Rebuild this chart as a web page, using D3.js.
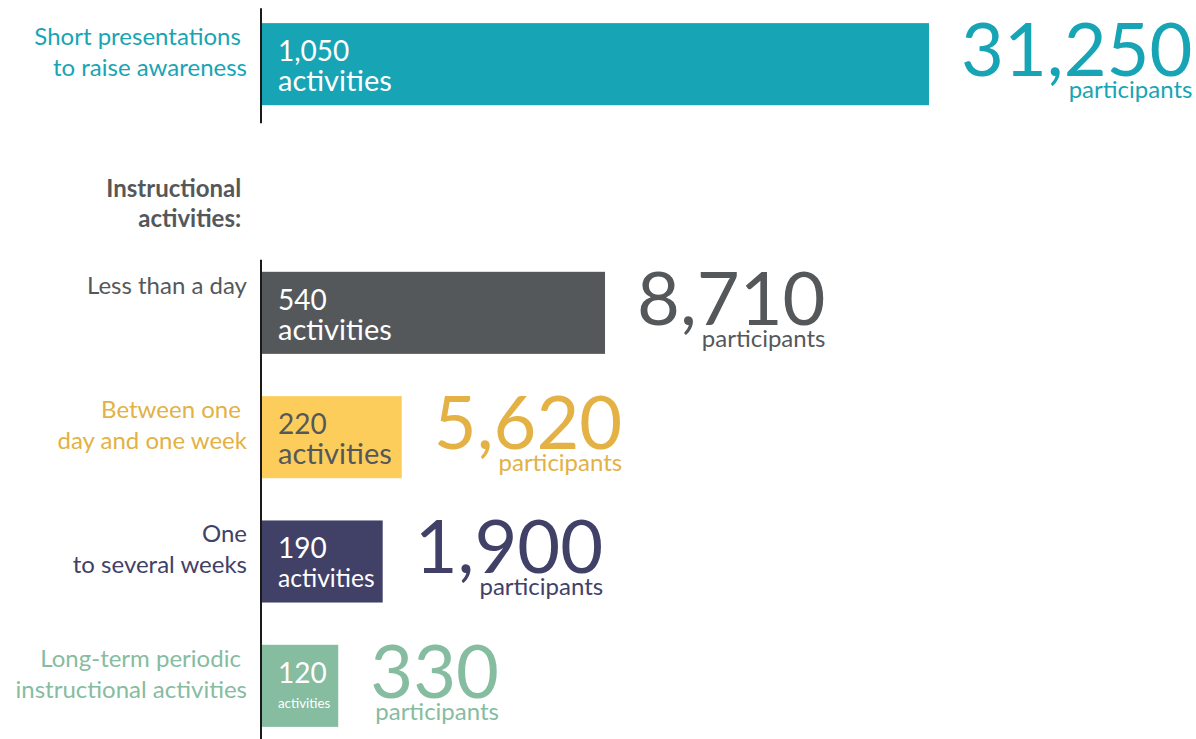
<!DOCTYPE html>
<html lang="en">
<head>
    <meta charset="UTF-8">
    <title>Activities and participants</title>
    <script src="https://d3js.org/d3.v7.min.js"></script>
    <style>
        body { margin: 0; background: #fff; }
        svg text { font-family: Lato, "Open Sans", sans-serif; white-space: pre; }
        .axis-line { stroke: #1a1a1a; stroke-width: 2px; }
    </style>
</head>
<body>
<script>

    // Data
    var rowKeys = ["short", "heading", "less", "between", "one", "long"];
    var categories = ["short", "less", "between", "one", "long"];
    var labelLines = [
        ["Short presentations ", "to raise awareness"],
        ["Less than a day"],
        ["Between one ", "day and one week"],
        ["One", "to several weeks"],
        ["Long-term periodic ", "instructional activities"]
    ];
    var headingLines = ["Instructional ", "activities: "];
    var activities = [1050, 540, 220, 190, 120];
    var participants = [31250, 8710, 5620, 1900, 330];

    // Colours
    var barColors  = ["#17a5b5", "#55585b", "#fdcd5c", "#414168", "#86bc9f"];
    var textColors = ["#17a5b5", "#55585b", "#e3b144", "#414168", "#86bc9f"];
    var innerColors = ["#ffffff", "#ffffff", "#55585b", "#ffffff", "#ffffff"];

    var width = 1196, height = 739;
    var axisX = 262, labelRight = 247;

    var fmt = d3.format(",");

    var x = d3.scaleLinear().domain([0, 1050]).range([axisX, 929]);
    var y = d3.scaleBand().domain(rowKeys).range([2, 748]).paddingInner(0.34).paddingOuter(0.17);
    var bw = y.bandwidth();

    var svg = d3.select("body").append("svg")
        .attr("width", width)
        .attr("height", height);

    var data = categories.map(function(c, i) {
        return {key: c, lines: labelLines[i], act: activities[i], part: participants[i], i: i};
    });

    // bars
    svg.selectAll("rect.bar")
        .data(data)
        .enter().append("rect")
        .attr("class", "bar")
        .attr("x", x(0))
        .attr("y", function(d) { return y(d.key); })
        .attr("width", function(d) { return x(d.act) - x(0); })
        .attr("height", bw)
        .attr("fill", function(d) { return barColors[d.i]; });

    // vertical axis lines (two pieces)
    svg.append("line").attr("class", "axis-line")
        .attr("x1", axisX - 1).attr("x2", axisX - 1)
        .attr("y1", y("short") - 15).attr("y2", y("short") + bw + 18);
    svg.append("line").attr("class", "axis-line")
        .attr("x1", axisX - 1).attr("x2", axisX - 1)
        .attr("y1", y("less") - 12).attr("y2", height);

    // category labels
    data.forEach(function(d) {
        var t = svg.append("text")
            .attr("xml:space", "preserve")
            .attr("text-anchor", "end")
            .attr("fill", textColors[d.i])
            .style("font-size", "24px");
        d.lines.forEach(function(l, k) {
            t.append("tspan")
                .attr("x", labelRight)
                .attr("y", y(d.key) + 22 + k * 31)
                .text(l);
        });
    });

    // heading
    var h = svg.append("text")
        .attr("xml:space", "preserve")
        .attr("text-anchor", "end")
        .attr("fill", "#55585b")
        .style("font-size", "24px")
        .style("font-weight", "bold");
    headingLines.forEach(function(l, k) {
        h.append("tspan")
            .attr("x", labelRight)
            .attr("y", y("heading") + 50 + k * 30)
            .text(l);
    });

    // numbers inside bars
    data.forEach(function(d) {
        var bx = x(0) + 16, by = y(d.key);
        svg.append("text")
            .attr("x", bx).attr("y", by + 38)
            .attr("fill", innerColors[d.i])
            .style("font-size", "28px")
            .text(fmt(d.act));
        var a = svg.append("text")
            .attr("x", bx).attr("y", by + 68)
            .attr("fill", innerColors[d.i])
            .style("font-size", "29px")
            .text("activities");
        var room = x(d.act) - x(0) - 24;
        var w = a.node().getComputedTextLength();
        if (w > room) {
            var fs = 29 * room / w;
            a.style("font-size", fs + "px")
             .attr("y", by + 68 - (29 - fs) * 0.3);
        }
    });

    // participants
    data.forEach(function(d) {
        var nx = x(d.act) + 32, by = y(d.key);
        var n = svg.append("text")
            .attr("x", nx).attr("y", by + 53)
            .attr("fill", textColors[d.i])
            .style("font-size", "74px")
            .text(fmt(d.part));
        var nw = n.node().getComputedTextLength();
        svg.append("text")
            .attr("x", nx + nw).attr("y", by + 75)
            .attr("text-anchor", "end")
            .attr("fill", textColors[d.i])
            .style("font-size", "24px")
            .text("participants");
    });

</script>
</body>
</html>
